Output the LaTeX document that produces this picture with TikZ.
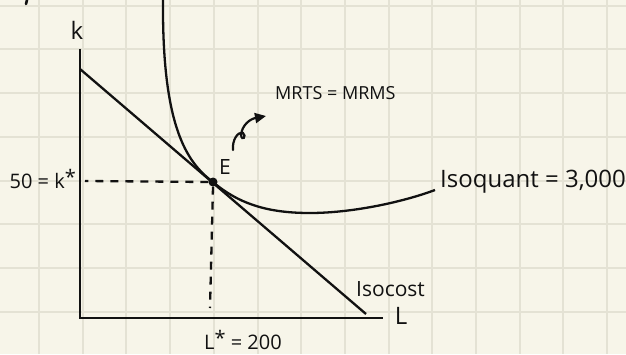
\documentclass[tikz,border=0pt]{standalone}
\usepackage{fontspec}
\setmainfont{Open Sans}
\usetikzlibrary{arrows.meta}
\definecolor{paper}{HTML}{F7F5E9}
\definecolor{gridc}{HTML}{E4E2D4}
\definecolor{ink}{HTML}{111111}
\tikzset{
  axis/.style={ink, line width=2.9pt},
  curve/.style={ink, line width=2.3pt},
  guide/.style={ink, line width=2.3pt, dash pattern=on 8pt off 7pt},
  lbl/.style={ink, inner sep=0pt},
}
\begin{document}
\begin{tikzpicture}[x=1pt, y=-1pt]
\useasboundingbox (0,0) rectangle (626,354);
\fill[paper] (0,0) rectangle (626,354);
% grid
\foreach \i in {0,...,13} {
  \draw[gridc, line width=2pt] ({39+43.7*\i},0) -- ({39+43.7*\i},354);
}
\foreach \j in {0,...,7} {
  \draw[gridc, line width=2pt] (0,{5.7+43.7*\j}) -- (626,{5.7+43.7*\j});
}
% stray ink at top-left
\draw[ink, line width=2.6pt, line cap=round] (27,0) -- (26,4);
% points
\coordinate (O) at (80,318);
\coordinate (Ktop) at (80,49);
\coordinate (Lend) at (383,318);
\coordinate (IcA) at (80,69);
\coordinate (IcB) at (366,314);
% axes
\draw[axis] (Ktop) -- (O) -- (Lend);
% isocost
\draw[curve] (IcA) -- (IcB);
% equilibrium point
\node[circle, fill=ink, minimum size=9pt, inner sep=0pt] (E) at (213,182) {};
% isoquant
\draw[curve] (163,0) .. controls (162,125) and (186,162) .. (E.center)
  .. controls (240,205) and (270,213) .. (310,213)
  .. controls (350,213) and (400,203) .. (435,190);
\node[lbl, font=\fontsize{21}{21}\selectfont] (Elbl) at (225,167) {E};
% dashed guides
\coordinate (Kd) at (85,181);
\coordinate (Ld) at (210,308);
\draw[guide] (E.west) -- (Kd);
\draw[guide] (E.south) -- (Ld);
% labels
\node[lbl, font=\fontsize{24}{24}\selectfont] (k) at (77,30) {k};
\node[lbl, font=\fontsize{20}{20}\selectfont, anchor=east] (kstar) at (76,179) {50 = k\raisebox{4pt}{*}};
\node[lbl, font=\fontsize{20}{20}\selectfont, anchor=west] (lstar) at (204,340) {L\raisebox{4pt}{*} = 200};
\node[lbl, font=\fontsize{24}{24}\selectfont] (L) at (401,316) {L};
\node[lbl, font=\fontsize{18}{18}\selectfont, anchor=west] (mrts) at (275,93) {MRTS = MRMS};
\node[lbl, font=\fontsize{24}{24}\selectfont, anchor=west] (isoq) at (440,182) {Isoquant = 3,000};
\node[lbl, font=\fontsize{21}{21}\selectfont, anchor=west] (isoc) at (356,289) {Isocost};
% squiggle arrow
\coordinate (sq) at (233,150);
\draw[ink, line width=2.2pt, line cap=round, -{Triangle[length=11pt,width=10pt]}]
  (sq) .. controls (232,140) and (238,131) .. (243,133)
       .. controls (247,136) and (242,142) .. (241,135)
       .. controls (242,125) and (250,119) .. (266,116);
\end{tikzpicture}
\end{document}
